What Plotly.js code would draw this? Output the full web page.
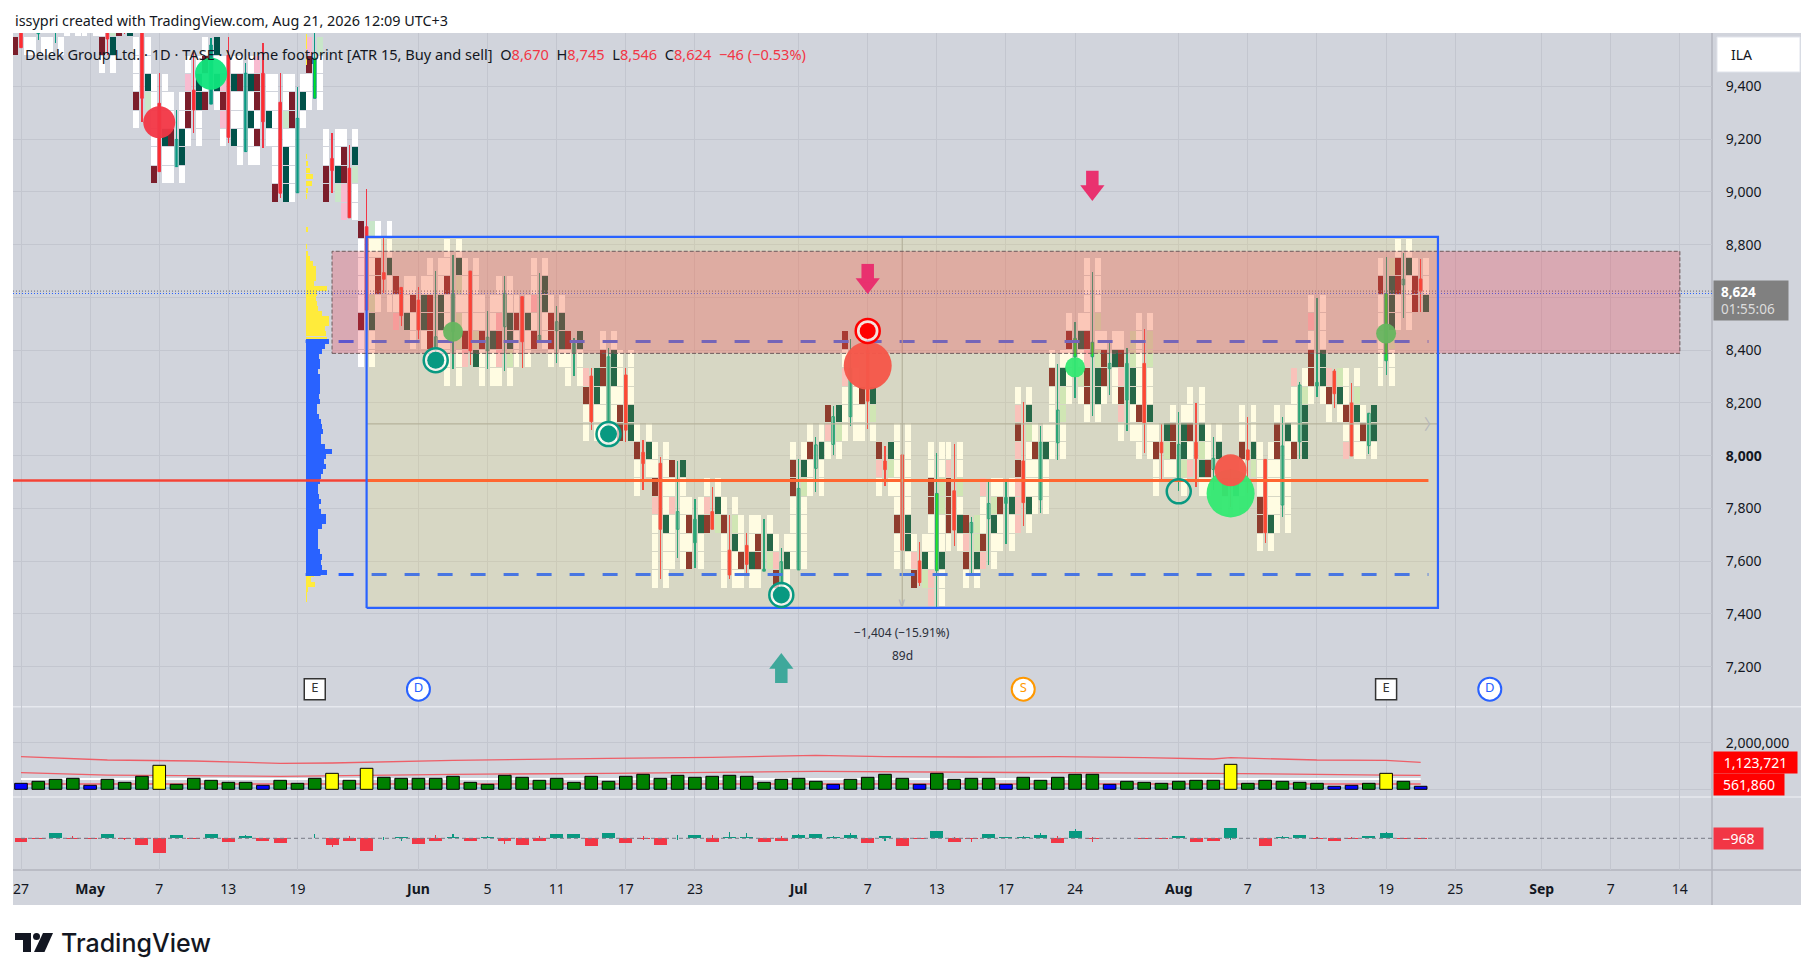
<!DOCTYPE html>
<html><head><meta charset="utf-8">
<script src="https://cdn.plot.ly/plotly-3.0.1.min.js"></script>
<style>html,body{margin:0;padding:0;background:#fff}</style></head>
<body><div id="chart" style="width:1815px;height:980px"></div>
<script>
// ---------- DATA ----------
const tickBars=[0,4,8,12,16,23,27,31,35,39,45,49,53,57,61,67,71,75,79,83,88,92,96];
const tickLabels=['27','<b>May</b>','7','13','19','<b>Jun</b>','5','11','17','23','<b>Jul</b>','7','13','17','24','<b>Aug</b>','7','13','19','25','<b>Sep</b>','7','14'];
const priceTicks=[7200,7400,7600,7800,8000,8200,8400,8600,8800,9000,9200,9400];
const priceTickLabels=['7,200','7,400','7,600','7,800','<b>8,000</b>','8,200','8,400','','8,800','9,000','9,200','9,400'];
const open =[9640,9600,9610,9660,9660,9640,9650,9620,9336,9096,9386,9333,9519,9153,9450,9340,8997,9355,9127,9090,8868,8694,8638,8590,8401,8470,8700,8398,8489,8603,8432,8474,8388,8302,8085,8306,8013,7971,7721,7670,7788,7642,7660,7562,7510,7567,7952,8043,8148,8400,7980,8003,7601,7564,7867,7708,7761,7819,7980,7833,8049,8375,8375,8330,8211,8350,8051,7910,8051,7948,7915,8022,7986,7813,8053,8264,8321,8200,8038,8360,8648,8670];
const high =[9660,9660,9660,9720,9720,9680,9700,9700,9450,9311,9532,9582,9589,9488,9566,9450,9399,9620,9222,9178,9011,8824,8638,8638,8700,8761,8700,8549,8681,8603,8691,8568,8445,8331,8407,8331,8060,7995,7980,7836,7881,7775,7706,7760,7649,7986,8070,8187,8441,8460,8037,8003,7673,8009,8044,7766,7901,7901,8202,8113,8348,8508,8695,8428,8407,8480,8120,8166,8200,8071,7950,8147,7986,8147,8279,8597,8327,8274,8161,8753,8768,8745];
const low  =[9547,9576,9566,9612,9612,9519,9600,9266,9077,9096,9225,9333,9187,9153,9165,8976,8997,9355,8997,8902,8552,8616,8492,8441,8382,8329,8344,8329,8321,8334,8426,8350,8303,8097,8085,8053,7870,7531,7613,7576,7721,7531,7554,7562,7510,7567,7864,8004,8113,8101,7886,7642,7507,7428,7659,7554,7586,7665,7735,7783,7984,8217,8152,8230,8095,8009,7908,7867,7881,7870,7806,7857,7668,7769,7987,8224,8182,7999,8006,8306,8522,8546];
const close=[9547,9640,9650,9680,9680,9580,9620,9355,9077,9199,9311,9557,9207,9450,9266,8995,9279,9507,9081,8902,8552,8669,8531,8477,8451,8613,8398,8449,8616,8432,8456,8508,8426,8129,8375,8097,7970,7721,7788,7759,7721,7548,7588,7570,7598,7876,8041,8148,8330,8207,7947,7642,7519,7857,7718,7747,7819,7842,7822,8051,8173,8445,8430,8350,8350,8125,8011,8043,7989,7990,7890,7984,7708,8037,8268,8278,8235,7999,8161,8615,8669,8624];
const brightGreenBars=[17,53,61,62,79];
const sellStart=[30,30,30,31,31,29,31,26,23,23,25,27,25,24,24,22,22,27,22,21,13,16,15,14,14,12,13,12,12,13,14,13,12,9,9,9,6,1,2,2,4,1,1,1,0,2,6,8,9,9,6,2,1,0,3,1,2,3,4,5,8,11,10,11,9,8,6,7,7,6,5,6,3,4,8,11,10,8,8,12,15,16];
const sellCells=['r','w','w','w','w','wrw','r','wrwww','rwwwww','wwrww','wrrpw','rwrw','wprpw','wwwwrw','wrwrrp','rwwwwww','wwwwrrw','wwrp','rrww','pprrw','wwrwwwwr','wrrww','pwr','wwrw','rrrww','wwwwwrww','prwwww','wwrww','wprpww','wwrw','rwpww','wrrw','wwr','wwrp','wwwrrw','rrwww','wwrw','wwwwprww','wwwpwr','rwrw','rpw','wwwrw','wrww','wrrw','wrpw','wwwwrrw','wwrw','wpr','wwwpwr','wwr','wpr','wwrwwwww','rpw','ppwwwrrww','wrrrpw','wrpr','prwwp','wwrw','ppprprpw','wwwrw','wwwwrw','wwwrw','wrrprwwww','wrrw','wprprw','wwrwwwww','wwrw','wrrw','pwrww','wrww','wr','wwrww','wrrwww','wwwwrrw','rwwwp','wrrwpw','wrp','pwrww','wrw','wwwwwrw','wwrrw','rrw'];
const buyStart=[30,30,30,31,31,29,31,27,23,23,25,27,25,24,25,22,26,27,22,21,13,16,15,14,14,12,13,12,12,13,14,13,12,9,9,9,7,1,2,2,4,1,1,2,1,2,6,8,9,9,6,2,1,0,3,1,2,3,4,5,8,11,10,11,9,8,7,6,6,8,5,7,3,4,8,11,10,8,8,12,15,16];
const buyCells=['w','w','w','w','w','wgl','g','lgww','wwgwww','wggww','wwggw','wgwg','gwwgw','wwgwgw','wgww','gggwlww','wgw','wwwl','lgww','wwlgw','wwglwwwl','wwgww','gww','wggw','wggww','wwllwlgw','glwwww','wwgww','wlggww','wwgw','wwggw','wggw','wwg','wwgg','wwwggw','ggwww','wgw','wwwgwwww','wwwwwg','wwgw','lgw','wwglw','wgww','lgw','wgw','wwwwlgw','wwgw','wlg','wwwwp','wlg','wlg','wggwwwww','lgw','wwgwwllww','wgwlww','wgll','wwglw','wwgw','wgwwwlgw','wwwgw','wwllgw','wlwgw','wgglwlwww','wwgw','wwggll','wwgwwllw','wlg','wlggw','wglgww','gw','wg','lgww','wgwwww','wwwwwgw','ggglw','wggwww','wgl','wwglw','wgg','wwlgggl','wwwgw','gww'];
const volume=[257,343,429,472,172,429,300,558,1030,215,472,386,300,300,172,386,257,472,686,386,901,515,472,472,472,558,300,215,601,515,386,472,300,558,343,558,644,472,601,515,558,601,558,300,429,472,343,215,429,515,644,472,215,686,429,472,472,215,515,386,515,644,644,215,343,300,257,343,386,386,1072,257,386,343,300,257,129,172,257,686,343,129];
const volumeColorName=['b','g','g','g','b','g','g','g','y','g','g','g','g','g','b','g','g','g','y','g','y','g','g','g','g','g','g','g','g','g','g','g','g','g','g','g','g','g','g','g','g','g','g','g','g','g','g','b','g','g','g','g','b','g','g','g','g','b','g','g','g','g','g','b','g','g','g','g','g','g','y','g','g','g','g','g','b','b','g','y','g','b'];
const volMaBars=[0,5,10,15,18,25,34,40,46,50,55,60,65,69,70,75,79,81];
const volMaUpper=[1399,1257,1214,1115,1128,1244,1330,1373,1458,1399,1386,1399,1356,1300,1356,1257,1244,1158];
const volMaMidBars=[0,5,15,25,34,46,60,69,79,81];
const volMaMid=[712,613,558,643,686,772,712,686,613,600];
const volLevelBars=[0,81];
const volLevelLower=[227,227];
const volLevelWhite=[442,442];
const volLevelBlue=[56,56];
const delta=[-33,-7,53,-3,-3,43,-3,-63,-143,33,-3,43,-33,23,-23,-43,3,3,-63,-23,-123,3,13,-53,-23,13,-23,10,-23,-63,-23,43,43,-73,53,-43,-10,-63,3,33,-33,13,10,-33,-23,33,43,13,33,-43,23,-73,-3,73,-33,-7,43,13,13,33,-43,73,-7,3,3,-3,-3,23,-33,-23,103,3,-73,13,33,-3,-23,-10,23,53,-3,-3];
const deltaWickBars=[3,5,6,13,17,18,19,21,22,24,25,27,28,30,31,36,38,40,41,42,44,45,47,48,50,54,55,56,58,59,60,61,62,70,73,75,77,79];
const deltaWickHigh=[27,43,0,33,43,0,20,15,13,33,43,20,0,20,43,20,30,30,60,50,23,40,20,50,23,10,0,43,27,50,23,90,10,103,20,10,13,67];
const deltaWickLow=[0,-10,-13,0,0,-83,-23,-15,-30,-23,0,0,-53,-23,-5,-20,-13,-33,0,0,-23,0,0,0,-23,-33,-33,-10,0,0,-43,0,-33,-20,0,-3,-10,0];
const profileBluePrice=[8432,8413,8394,8375,8356,8337,8318,8299,8280,8261,8242,8223,8204,8185,8167,8148,8129,8110,8091,8072,8053,8034,8015,7996,7977,7958,7939,7920,7901,7882,7863,7844,7825,7806,7787,7768,7749,7730,7711,7692,7673,7654,7635,7616,7597,7578,7559];
const profileBlueVol=[70,58,48,40,42,42,38,42,44,43,44,40,44,33,34,40,46,50,52,46,46,58,78,60,56,60,52,46,44,36,36,40,46,40,45,60,60,48,36,38,36,38,44,48,46,48,64];
const profileYellowPrice=[7453,7472,7491,7510,7529,7548,8439,8464,8483,8502,8521,8540,8559,8578,8597,8616,8635,8654,8673,8692,8711,8730,8749,8768,8793,8830,8856,8906,8932,8982,9007,9033,9058,9083,9108,9134,9159,9470,9490,9510,9530,9550,9570,9590];
const profileYellowVol=[3,4,6,28,15,25,65,62,59,69,71,50,36,33,30,33,65,26,30,31,32,21,12,6,3,2,8,2,2,3,8,18,22,12,8,4,1,2,3,3,3,4,4,4];
const lastPrice=8624, lastPriceBlue=8615;
const zoneTop=8775, zoneBottom=8388, zoneLeft=18, zoneRight=96;
const boxTop=8830, boxBottom=7423, boxLeft=20, boxRight=82;
const pocPrice=7906, vahPrice=8433, valPrice=7550, midPrice=8121, measureBar=51;
const bubbleBars=[8,11,25,79,61];
const bubblePrice=[9264,9448,8470,8463,8335];
const bubbleSize=[32,32,20,20,20];
const bubbleColor=['#f23645','#0fe57c','#66b55f','#66b55f','#34e872'];
const ringBars=[24,34,44];
const ringPrice=[8362,8082,7472];
const openRingBar=[67], openRingPrice=[7865];
const arrowDownBars=[49,62], arrowDownTip=[8613,8966];
const arrowUpBars=[44], arrowUpTip=[7252];
const eventBars=[17,23,58,79,85], eventNames=['E','D','S','E','D'], eventPrice=7115;

// ---------- helpers ----------
const rowBase=7427.5,rowStep=69.72,cellHeight=66;
const colours={w:'#ffffff',r:'#7b1e2b',g:'#00524a',p:'#f8bbd0',l:'#c8e6c9'};
const L=13,R=1712,T=33,B=870;
const px=v=>(v-L)/(R-L), py=v=>(B-v)/(B-T);
const bars=open.map((_,i)=>i);
const profileBase=16.47, profileScale=1/(3*17.28);
const none={hoverinfo:'skip',showlegend:false};
const fontTxt='Noto Sans, sans-serif';

function cellTrace(starts,cells,offset){
  const x=[],base=[],y=[],color=[];
  cells.forEach((s,i)=>[...s].forEach((c,j)=>{
    x.push(i+offset);base.push(rowBase+rowStep*(starts[i]+j)+(rowStep-cellHeight)/2);y.push(cellHeight);color.push(colours[c]);
  }));
  return {type:'bar',x,y,base,width:0.345,marker:{color,line:{width:0}},...none};
}
const isUp=bars.map(i=>close[i]>=open[i]);
const traces=[];
traces.push(cellTrace(sellStart,sellCells,-0.325));
traces.push(cellTrace(buyStart,buyCells,0.325));
// wicks
traces.push({type:'bar',x:bars,base:low,y:bars.map(i=>high[i]-low[i]),width:0.07,
  marker:{color:bars.map(i=>isUp[i]?'#089981':'#f23645'),line:{width:0}},...none});
// bodies
traces.push({type:'bar',x:bars,base:bars.map(i=>Math.min(open[i],close[i])),y:bars.map(i=>Math.abs(open[i]-close[i])),width:0.15,
  marker:{color:bars.map(i=>isUp[i]?(brightGreenBars.includes(i)?'#00e61e':'rgba(0,0,0,0)'):'#ff2d2d'),
  line:{width:1,color:bars.map(i=>isUp[i]?'#089981':'#f23645')}},...none});
// volume profile
traces.push({type:'bar',orientation:'h',y:profileYellowPrice,x:profileYellowVol.map(v=>v*profileScale),base:profileBase,width:19,marker:{color:'#ffeb3b',line:{width:0}},...none});
traces.push({type:'bar',orientation:'h',y:profileBluePrice,x:profileBlueVol.map(v=>v*profileScale),base:profileBase,width:19,marker:{color:'#2962ff',line:{width:0}},...none});
// last price dotted
traces.push({type:'scatter',mode:'lines',x:[-0.463,97.86],y:[lastPrice,lastPrice],line:{color:'#787b86',dash:'1px,2px',width:1.2},...none});
traces.push({type:'scatter',mode:'lines',x:[-0.463,97.86],y:[lastPriceBlue,lastPriceBlue],line:{color:'#2962ff',dash:'1px,2px',width:1.2},...none});
// POC / VAH / VAL
traces.push({type:'scatter',mode:'lines',x:[-0.463,20],y:[pocPrice,pocPrice],line:{color:'#f44336',width:2.5},...none});
traces.push({type:'scatter',mode:'lines',x:[20,81.45],y:[pocPrice,pocPrice],line:{color:'#ff4f2e',width:2.8},...none});
traces.push({type:'scatter',mode:'lines',x:[16.47,81.45],y:[vahPrice,vahPrice],line:{color:'#2962ff',dash:'15px,18px',width:3},...none});
traces.push({type:'scatter',mode:'lines',x:[16.47,81.45],y:[valPrice,valPrice],line:{color:'#2962ff',dash:'15px,18px',width:3},...none});
// measure lines
traces.push({type:'scatter',mode:'lines',x:[boxLeft,boxRight],y:[midPrice,midPrice],line:{color:'#a8a9ad',width:1.2},...none});
traces.push({type:'scatter',mode:'lines',x:[measureBar,measureBar],y:[boxTop,boxBottom],line:{color:'#a8a9ad',width:1.2},...none});
// yellow box fill
traces.push({type:'scatter',mode:'lines',x:[boxLeft,boxRight,boxRight,boxLeft,boxLeft],y:[boxBottom,boxBottom,boxTop,boxTop,boxBottom],fill:'toself',fillcolor:'rgba(255,235,59,0.15)',line:{width:0},...none});
// red zone
traces.push({type:'scatter',mode:'lines',x:[zoneLeft,zoneRight,zoneRight,zoneLeft,zoneLeft],y:[zoneBottom,zoneBottom,zoneTop,zoneTop,zoneBottom],fill:'toself',fillcolor:'rgba(242,54,69,0.27)',line:{width:1,color:'#6d5a5c',dash:'4px,2px'},...none});
// blue frame
traces.push({type:'scatter',mode:'lines',x:[boxLeft,boxRight,boxRight,boxLeft,boxLeft],y:[boxBottom,boxBottom,boxTop,boxTop,boxBottom],line:{color:'#2962ff',width:2.2},...none});
// bubbles
traces.push({type:'scatter',mode:'markers',x:bubbleBars,y:bubblePrice,marker:{size:bubbleSize,color:bubbleColor,opacity:0.95,line:{width:0}},...none});
traces.push({type:'scatter',mode:'markers',x:[70],y:[7857],marker:{size:48,color:'#34e872',opacity:0.96,line:{width:0}},...none});
traces.push({type:'scatter',mode:'markers',x:[70],y:[7945],marker:{size:32,color:'#f5584a',opacity:0.97,line:{width:0}},...none});
traces.push({type:'scatter',mode:'markers',x:[49],y:[8341],marker:{size:48,color:'#f5584a',opacity:0.97,line:{width:0}},...none});
traces.push({type:'scatter',mode:'markers',x:[49],y:[8473],marker:{size:24,color:'rgba(255,255,255,0.65)',line:{color:'#ff0000',width:2.5}},...none});
traces.push({type:'scatter',mode:'markers',x:[49],y:[8473],marker:{size:16,color:'#ff0000',line:{width:0}},...none});
traces.push({type:'scatter',mode:'markers',x:ringBars,y:ringPrice,marker:{size:24,color:'rgba(255,255,255,0.65)',line:{color:'#089981',width:2.5}},...none});
traces.push({type:'scatter',mode:'markers',x:ringBars,y:ringPrice,marker:{size:17,color:'#089981',line:{width:0}},...none});
traces.push({type:'scatter',mode:'markers',x:openRingBar,y:openRingPrice,marker:{size:24,color:'rgba(0,0,0,0)',line:{color:'#089981',width:2.5}},...none});
// arrows (price tip of each arrow -> stem and head markers)
const PPX=1/0.26375; // price units per pixel
traces.push({type:'scatter',mode:'markers',x:arrowDownBars,y:arrowDownTip.map(p=>p+10.5*PPX),marker:{symbol:'triangle-down',size:21,color:'#e9316f',line:{width:0}},...none});
traces.push({type:'scatter',mode:'markers',x:arrowDownBars,y:arrowDownTip.map(p=>p+21*PPX),marker:{symbol:'line-ns',size:13,line:{color:'#e9316f',width:12.5}},...none});
traces.push({type:'scatter',mode:'markers',x:arrowUpBars,y:arrowUpTip.map(p=>p-10.5*PPX),marker:{symbol:'triangle-up',size:21,color:'#3fa89b',line:{width:0}},...none});
traces.push({type:'scatter',mode:'markers',x:arrowUpBars,y:arrowUpTip.map(p=>p-21*PPX),marker:{symbol:'line-ns',size:13,line:{color:'#3fa89b',width:12.5}},...none});
// events
[['E','square',21,'#333333'],['D','circle',23,'#2962ff'],['S','circle',23,'#ff9800']].forEach(([n,sym,sz,c])=>{
  const idx=eventNames.map((v,i)=>v===n?i:-1).filter(i=>i>=0);
  traces.push({type:'scatter',mode:'markers+text',x:idx.map(i=>eventBars[i]),y:idx.map(()=>eventPrice),text:idx.map(()=>n),
    textposition:'middle center',textfont:{family:fontTxt,size:13,color:c},marker:{symbol:sym,size:sz,color:'#ffffff',line:{color:c,width:n==='E'?1.5:2}},...none});
});
// volume pane: indicator lines first, bars on an overlaying axis so they cover the lines
const vl=(x,y,c,w)=>traces.push({type:'scatter',mode:'lines',x,y,yaxis:'y2',line:{color:c,width:w},...none});
vl(volLevelBars,volLevelWhite,'#ffffff',2);
vl(volLevelBars,volLevelBlue,'#7fb8d8',1.5);
vl(volLevelBars,volLevelLower,'#f0606a',1.5);
vl(volMaMidBars,volMaMid,'#ee5f68',1.3);
vl(volMaBars,volMaUpper,'#ee5f68',1.3);
const volCol={b:'#0000ff',g:'#008000',y:'#ffff00'};
traces.push({type:'bar',x:bars,y:volume,yaxis:'y4',width:0.73,marker:{color:volumeColorName.map(n=>volCol[n]),line:{color:'#000000',width:1}},...none});
// delta pane
traces.push({type:'scatter',mode:'lines',x:[0,97.86],y:[0,0],yaxis:'y3',line:{color:'#787b86',width:1,dash:'4px,3px'},...none});
traces.push({type:'bar',x:deltaWickBars,base:deltaWickLow,y:deltaWickHigh.map((h,i)=>h-deltaWickLow[i]),yaxis:'y3',width:0.06,
  marker:{color:deltaWickBars.map(b=>delta[b]>=0?'#089981':'#f23645'),line:{width:0}},...none});
traces.push({type:'bar',x:bars,y:delta,yaxis:'y3',width:0.75,marker:{color:delta.map(v=>v>=0?'#089981':'#f23645'),line:{width:0}},...none});

// ---------- layout ----------
const grid='#c3c6cf';
const ann=[];
const label=(x,y,text,size,color,extra)=>ann.push(Object.assign({xref:'paper',yref:'paper',x:px(x),y:py(y),text,showarrow:false,xanchor:'left',yanchor:'middle',font:{family:fontTxt,size,color}},extra||{}));
label(13,20,'issypri created with TradingView.com, Aug 21, 2026 12:09 UTC+3',14.4,'#131722');
const r=s=>`<span style="color:#f23645">${s}</span>`;
label(23,54,`Delek Group Ltd. · 1D · TASE · Volume footprint [ATR 15, Buy and sell]\u00a0\u00a0O${r('8,670')}\u00a0\u00a0H${r('8,745')}\u00a0\u00a0L${r('8,546')}\u00a0\u00a0C${r('8,624')}\u00a0\u00a0${r('−46 (−0.53%)')}`,14.6,'#131722');
const tag=(x0,x1,y0,y1,text,bg,size,align)=>ann.push({xref:'paper',yref:'paper',x:px(x0),y:py((y0+y1)/2),xanchor:'left',yanchor:'middle',width:x1-x0,height:y1-y0,text,showarrow:false,align:align||'center',valign:'middle',bgcolor:bg,borderpad:0,font:{family:fontTxt,size:size||14,color:'#ffffff'}});
tag(1713,1787,281,320,`\u00a0\u00a0<b>8,624</b><br>\u00a0\u00a0<span style="color:#dcdcdc">01:55:06</span>`,'#808080',13.5,'left');
tag(1713,1796,752,772.7,'1,123,721','#ff0000',14);
tag(1713,1783,774,794.7,'561,860','#ff0000',14);
tag(1713,1762,828,849,'−968','#f23645',14);
label(1729,54,'ILA',14,'#131722');
ann.push({xref:'x',yref:'y',x:measureBar,y:7328,text:'−1,404 (−15.91%)',showarrow:false,font:{family:fontTxt,size:12,color:'#2a2e39'}});
ann.push({xref:'x',yref:'y',x:measureBar,y:7244,text:'89d',showarrow:false,font:{family:fontTxt,size:12,color:'#2a2e39'}});
ann.push({xref:'x',yref:'y',x:measureBar,y:boxBottom+20,text:'∨',showarrow:false,font:{family:'DejaVu Sans, sans-serif',size:13,color:'#b4b6bb'}});
ann.push({xref:'x',yref:'y',x:boxRight-0.35,y:midPrice,text:'〉',showarrow:false,font:{family:'Noto Sans CJK SC, sans-serif',size:15,color:'#b4b6bb'}});
ann.push({xref:'paper',yref:'paper',x:px(59),y:py(943),text:'TradingView',showarrow:false,xanchor:'left',yanchor:'middle',font:{family:'Inter, sans-serif',size:25,color:'#131722',weight:500}});

const paperRect=(x0,y0,x1,y1,fill,extra)=>Object.assign({type:'rect',xref:'paper',yref:'paper',x0:px(x0),x1:px(x1),y0:py(y0),y1:py(y1),fillcolor:fill,line:{width:0},layer:'below'},extra||{});
const paperLine=(x0,y0,x1,y1,c,w)=>({type:'line',xref:'paper',yref:'paper',x0:px(x0),x1:px(x1),y0:py(y0),y1:py(y1),line:{color:c,width:w},layer:'below'});
const logo=pts=>'M'+pts.map(p=>px(p[0])+','+py(p[1])).join('L')+'Z';
const shapes=[
  paperRect(13,33,1801,905,'#d1d4dc'),
  paperLine(13,706.7,1801,706.7,'#e6e8ee',1.5),
  paperLine(13,797,1801,797,'#e6e8ee',1.5),
  paperLine(13,870,1801,870,'#b2b5be',1.5),
  paperLine(1712,33,1712,905,'#b2b5be',1.5),
  paperRect(1717,37,1800,72,'#ffffff',{layer:'above',line:{color:'#e0e3eb',width:1}}),
  {type:'path',xref:'paper',yref:'paper',path:logo([[15,933],[31,933],[31,952],[23,952],[23,940],[15,940]]),fillcolor:'#131722',line:{width:0}},
  {type:'path',xref:'paper',yref:'paper',path:logo([[43,933],[53,933],[44.5,952],[34,952]]),fillcolor:'#131722',line:{width:0}},
  {type:'circle',xref:'paper',yref:'paper',x0:px(33),x1:px(40),y0:py(933),y1:py(940),fillcolor:'#131722',line:{width:0}}
];
const layout={
  width:1815,height:980,autosize:false,paper_bgcolor:'#ffffff',plot_bgcolor:'rgba(0,0,0,0)',
  margin:{l:L,r:1815-R,t:T,b:980-B,pad:0},showlegend:false,barmode:'overlay',hovermode:false,bargap:0,
  font:{family:fontTxt,size:14,color:'#131722'},
  xaxis:{range:[-0.463,97.86],tickmode:'array',tickvals:tickBars,ticktext:tickLabels,showgrid:true,gridcolor:grid,gridwidth:1,zeroline:false,
    ticks:'outside',ticklen:6,tickcolor:'rgba(0,0,0,0)',tickfont:{family:fontTxt,size:14,color:'#131722'},anchor:'y3',fixedrange:true,showline:false},
  yaxis:{domain:[0.1951,1],range:[7048.4,9602.6],side:'right',anchor:'x',tickmode:'array',tickvals:priceTicks,ticktext:priceTickLabels,showgrid:true,gridcolor:grid,zeroline:false,
    ticks:'outside',ticklen:10,tickcolor:'rgba(0,0,0,0)',tickfont:{family:fontTxt,size:14,color:'#131722'},fixedrange:true},
  yaxis2:{domain:[0.0872,0.1951],range:[-330,3544],side:'right',anchor:'x',tickmode:'array',tickvals:[0,2000],ticktext:['','2,000,000'],showgrid:true,gridcolor:grid,zeroline:false,
    ticks:'outside',ticklen:10,tickcolor:'rgba(0,0,0,0)',tickfont:{family:fontTxt,size:14,color:'#131722'},fixedrange:true},
  yaxis3:{domain:[0,0.0872],range:[-317,413],side:'right',anchor:'x',showticklabels:false,showgrid:false,zeroline:false,fixedrange:true},
  yaxis4:{overlaying:'y2',range:[-330,3544],side:'right',anchor:'x',showticklabels:false,showgrid:false,zeroline:false,fixedrange:true},
  shapes,annotations:ann
};
Plotly.newPlot('chart',traces,layout,{displayModeBar:false,staticPlot:true});
</script></body></html>
